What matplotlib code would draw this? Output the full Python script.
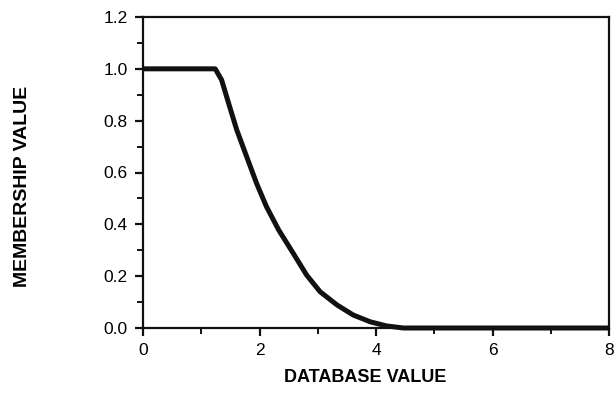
import numpy as np
import matplotlib.pyplot as plt
from matplotlib.ticker import MultipleLocator

# Membership function
database_value = [0.0, 1.24, 1.35, 1.47, 1.61, 1.78, 1.95, 2.12, 2.33, 2.58, 2.81,
                  3.04, 3.33, 3.61, 3.90, 4.18, 4.47, 5.0, 6.0, 7.0, 8.0]
membership_value = [1.0, 1.0, 0.957, 0.867, 0.764, 0.661, 0.558, 0.468, 0.378, 0.288, 0.204,
                    0.14, 0.089, 0.05, 0.024, 0.008, 0.0, 0.0, 0.0, 0.0, 0.0]

x_ticks = [0, 2, 4, 6, 8]
y_ticks = [0.0, 0.2, 0.4, 0.6, 0.8, 1.0, 1.2]

plt.rcParams['font.family'] = ['Liberation Sans', 'DejaVu Sans']

figure, axis = plt.subplots(figsize=(6.16, 3.93), dpi=100)
figure.subplots_adjust(left=143 / 616, right=609 / 616, top=1 - 17 / 393, bottom=1 - 328 / 393)

axis.plot(database_value, membership_value, color="#111111", linewidth=3.6,
          solid_joinstyle="round", solid_capstyle="butt", clip_on=False, zorder=3)

axis.set_xlim(0, 8)
axis.set_ylim(0, 1.2)
axis.set_xticks(x_ticks)
axis.set_yticks(y_ticks)
axis.set_xticklabels([str(t) for t in x_ticks])
axis.set_yticklabels(["%.1f" % t for t in y_ticks])
axis.xaxis.set_minor_locator(MultipleLocator(1))
axis.yaxis.set_minor_locator(MultipleLocator(0.1))

for spline in ("top", "bottom", "left", "right"):
    axis.spines[spline].set_linewidth(1.6)
    axis.spines[spline].set_color("#111111")

axis.tick_params(which="major", direction="out", length=6, width=1.6, labelsize=12.5, pad=5,
                 color="#111111")
axis.tick_params(which="minor", direction="out", length=4, width=1.4, color="#111111")

axis.set_xlabel("DATABASE VALUE", fontsize=13, fontweight="bold")
axis.set_ylabel("MEMBERSHIP VALUE", fontsize=14, fontweight="bold")
axis.xaxis.set_label_coords((365 - 143) / 466, -(378 - 328) / 311)
axis.yaxis.set_label_coords(-(143 - 23) / 466, (328 - 186) / 311)
axis.xaxis.label.set_va("center")
axis.yaxis.label.set_va("center")

plt.savefig("out.png", dpi=100)
